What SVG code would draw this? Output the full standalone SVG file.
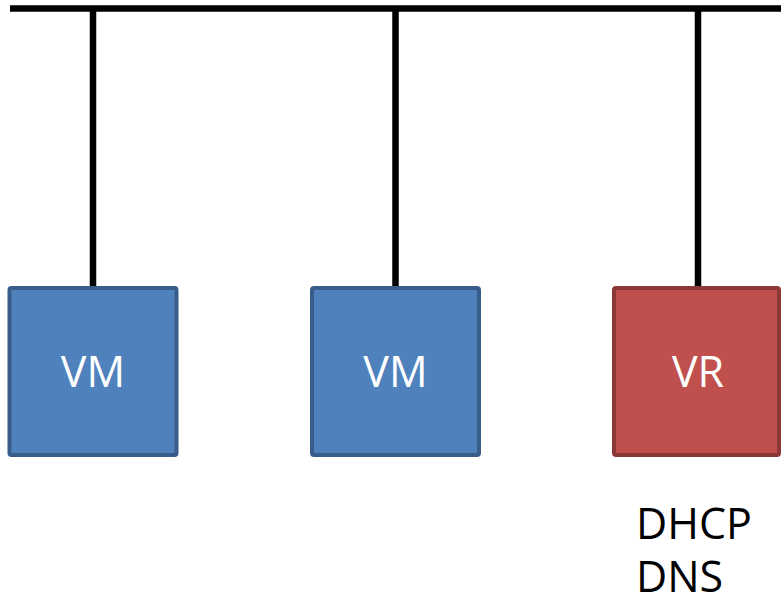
<svg xmlns="http://www.w3.org/2000/svg" width="781" height="601" viewBox="0 0 781 601">
<style>
.bus{stroke:#000;stroke-width:6.5;fill:none}
.vm{fill:#4F81BD;stroke:#385D8A;stroke-width:4}
.vr{fill:#C0504D;stroke:#8C3836;stroke-width:4}
.lbl{font-family:"Open Sans","Noto Sans","DejaVu Sans",sans-serif;font-size:43px;fill:#fff;text-anchor:middle}
.note{font-family:"Open Sans","Noto Sans","DejaVu Sans",sans-serif;font-size:43px;fill:#000}
</style>
<rect width="781" height="601" fill="#fff"/>
<g id="connectors">
<line class="bus" x1="10" y1="8.5" x2="781" y2="8.5"/>
<line class="bus" x1="93" y1="8.5" x2="93" y2="288"/>
<line class="bus" x1="395.5" y1="8.5" x2="395.5" y2="288"/>
<line class="bus" x1="698" y1="8.5" x2="698" y2="288"/>
</g>
<g id="vm1">
<rect class="vm" x="9.5" y="288" width="167" height="167" rx="2"/>
<text class="lbl" x="93" y="387">VM</text>
</g>
<g id="vm2">
<rect class="vm" x="312" y="288" width="167" height="167" rx="2"/>
<text class="lbl" x="395.5" y="387">VM</text>
</g>
<g id="vr">
<rect class="vr" x="614" y="288" width="165" height="167" rx="2"/>
<text class="lbl" x="698" y="387">VR</text>
</g>
<g id="services">
<text class="note" x="636" y="539">DHCP</text>
<text class="note" x="636" y="592">DNS</text>
</g>
</svg>
